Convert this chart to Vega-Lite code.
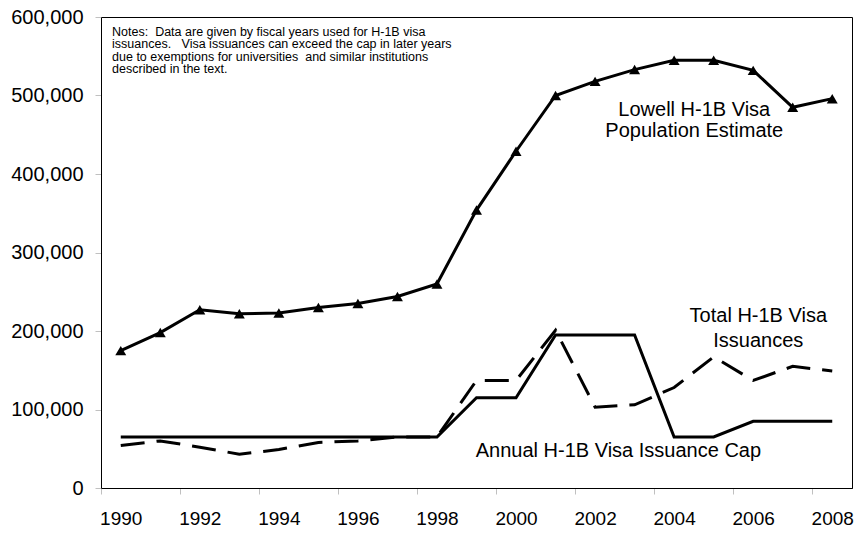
{
  "$schema": "https://vega.github.io/schema/vega-lite/v6.json",
  "width": 751,
  "height": 471,
  "autosize": {"type": "none"},
  "padding": {"left": 101, "top": 17, "right": 7, "bottom": 50},
  "background": "white",
  "config": {
    "view": {"stroke": "black", "strokeWidth": 1},
    "font": "Liberation Sans"
  },
  "datasets": {
    "series": [
      {"year": 1990, "series": "Lowell", "value": 175000},
      {"year": 1991, "series": "Lowell", "value": 198000},
      {"year": 1992, "series": "Lowell", "value": 227000},
      {"year": 1993, "series": "Lowell", "value": 222000},
      {"year": 1994, "series": "Lowell", "value": 223000},
      {"year": 1995, "series": "Lowell", "value": 230000},
      {"year": 1996, "series": "Lowell", "value": 235000},
      {"year": 1997, "series": "Lowell", "value": 244000},
      {"year": 1998, "series": "Lowell", "value": 260000},
      {"year": 1999, "series": "Lowell", "value": 354000},
      {"year": 2000, "series": "Lowell", "value": 429000},
      {"year": 2001, "series": "Lowell", "value": 500000},
      {"year": 2002, "series": "Lowell", "value": 518000},
      {"year": 2003, "series": "Lowell", "value": 533000},
      {"year": 2004, "series": "Lowell", "value": 545000},
      {"year": 2005, "series": "Lowell", "value": 545000},
      {"year": 2006, "series": "Lowell", "value": 532000},
      {"year": 2007, "series": "Lowell", "value": 485000},
      {"year": 2008, "series": "Lowell", "value": 496000},
      {"year": 1990, "series": "Cap", "value": 65000},
      {"year": 1991, "series": "Cap", "value": 65000},
      {"year": 1992, "series": "Cap", "value": 65000},
      {"year": 1993, "series": "Cap", "value": 65000},
      {"year": 1994, "series": "Cap", "value": 65000},
      {"year": 1995, "series": "Cap", "value": 65000},
      {"year": 1996, "series": "Cap", "value": 65000},
      {"year": 1997, "series": "Cap", "value": 65000},
      {"year": 1998, "series": "Cap", "value": 65000},
      {"year": 1999, "series": "Cap", "value": 115000},
      {"year": 2000, "series": "Cap", "value": 115000},
      {"year": 2001, "series": "Cap", "value": 195000},
      {"year": 2002, "series": "Cap", "value": 195000},
      {"year": 2003, "series": "Cap", "value": 195000},
      {"year": 2004, "series": "Cap", "value": 65000},
      {"year": 2005, "series": "Cap", "value": 65000},
      {"year": 2006, "series": "Cap", "value": 85000},
      {"year": 2007, "series": "Cap", "value": 85000},
      {"year": 2008, "series": "Cap", "value": 85000},
      {"year": 1990, "series": "Issuances", "value": 54000},
      {"year": 1991, "series": "Issuances", "value": 60000},
      {"year": 1992, "series": "Issuances", "value": 52000},
      {"year": 1993, "series": "Issuances", "value": 43000},
      {"year": 1994, "series": "Issuances", "value": 49000},
      {"year": 1995, "series": "Issuances", "value": 58000},
      {"year": 1996, "series": "Issuances", "value": 60000},
      {"year": 1997, "series": "Issuances", "value": 65000},
      {"year": 1998, "series": "Issuances", "value": 65000},
      {"year": 1999, "series": "Issuances", "value": 137000},
      {"year": 2000, "series": "Issuances", "value": 137000},
      {"year": 2001, "series": "Issuances", "value": 201000},
      {"year": 2002, "series": "Issuances", "value": 103000},
      {"year": 2003, "series": "Issuances", "value": 106000},
      {"year": 2004, "series": "Issuances", "value": 128000},
      {"year": 2005, "series": "Issuances", "value": 167000},
      {"year": 2006, "series": "Issuances", "value": 137000},
      {"year": 2007, "series": "Issuances", "value": 155000},
      {"year": 2008, "series": "Issuances", "value": 149000}
    ],
    "labels": [
      {"x": 2004.51, "y": 474500, "label": "Lowell H-1B Visa"},
      {"x": 2004.51, "y": 446900, "label": "Population Estimate"},
      {"x": 2006.13, "y": 211200, "label": "Total H-1B Visa"},
      {"x": 2006.13, "y": 179400, "label": "Issuances"},
      {"x": 2002.59, "y": 38900, "label": "Annual H-1B Visa Issuance Cap"}
    ],
    "notes": [
      {"x": 1989.78, "y": 576400, "label": "Notes:\u00a0 Data are given by fiscal years used for H-1B visa\nissuances.\u00a0\u00a0 Visa issuances can exceed the cap in later years\ndue to exemptions for universities\u00a0 and similar institutions\ndescribed in the text."}
    ]
  },
  "layer": [
    {
      "data": {"name": "series"},
      "transform": [{"filter": "datum.series === 'Cap'"}],
      "mark": {"type": "line", "color": "black", "strokeWidth": 3},
      "encoding": {
        "x": {
          "field": "year", "type": "quantitative",
          "scale": {"domain": [1989.5, 2008.5], "nice": false, "zero": false},
          "axis": {
            "title": null,
            "grid": false,
            "values": [1989.5, 1990.5, 1991.5, 1992.5, 1993.5, 1994.5, 1995.5, 1996.5, 1997.5, 1998.5, 1999.5, 2000.5, 2001.5, 2002.5, 2003.5, 2004.5, 2005.5, 2006.5, 2007.5, 2008.5],
            "labelExpr": "(datum.value - 1989.5) % 2 == 0 ? format(datum.value + 0.5, 'd') : ''",
            "labelOffset": 19.76,
            "labelFlush": false,
            "labelOverlap": false,
            "labelBound": false,
            "labelFontSize": 19,
            "labelColor": "black",
            "labelPadding": 15,
            "tickSize": 6,
            "tickColor": "#c0c0c0",
            "domainColor": "black"
          }
        },
        "y": {
          "field": "value", "type": "quantitative",
          "scale": {"domain": [0, 600000], "nice": false},
          "axis": {
            "title": null,
            "grid": false,
            "values": [0, 100000, 200000, 300000, 400000, 500000, 600000],
            "format": ",d",
            "labelFontSize": 20,
            "labelColor": "black",
            "labelPadding": 12,
            "tickSize": 6,
            "tickColor": "#c0c0c0",
            "domainColor": "black"
          }
        }
      }
    },
    {
      "data": {"name": "series"},
      "transform": [{"filter": "datum.series === 'Issuances'"}],
      "mark": {"type": "line", "color": "black", "strokeWidth": 3, "strokeDash": [24, 12]},
      "encoding": {
        "x": {"field": "year", "type": "quantitative"},
        "y": {"field": "value", "type": "quantitative"}
      }
    },
    {
      "data": {"name": "series"},
      "transform": [{"filter": "datum.series === 'Lowell'"}],
      "mark": {"type": "line", "color": "black", "strokeWidth": 3,
               "point": {"shape": "triangle-up", "size": 120, "filled": true, "color": "black", "opacity": 1}},
      "encoding": {
        "x": {"field": "year", "type": "quantitative"},
        "y": {"field": "value", "type": "quantitative"}
      }
    },
    {
      "data": {"name": "labels"},
      "mark": {"type": "text", "align": "center", "baseline": "alphabetic", "fontSize": 20, "color": "black", "font": "Liberation Sans"},
      "encoding": {
        "x": {"field": "x", "type": "quantitative"},
        "y": {"field": "y", "type": "quantitative"},
        "text": {"field": "label"}
      }
    },
    {
      "data": {"name": "notes"},
      "mark": {"type": "text", "align": "left", "baseline": "alphabetic", "fontSize": 12.5, "lineHeight": 12.5, "lineBreak": "\n", "color": "black", "font": "Liberation Sans"},
      "encoding": {
        "x": {"field": "x", "type": "quantitative"},
        "y": {"field": "y", "type": "quantitative"},
        "text": {"field": "label"}
      }
    }
  ]
}
